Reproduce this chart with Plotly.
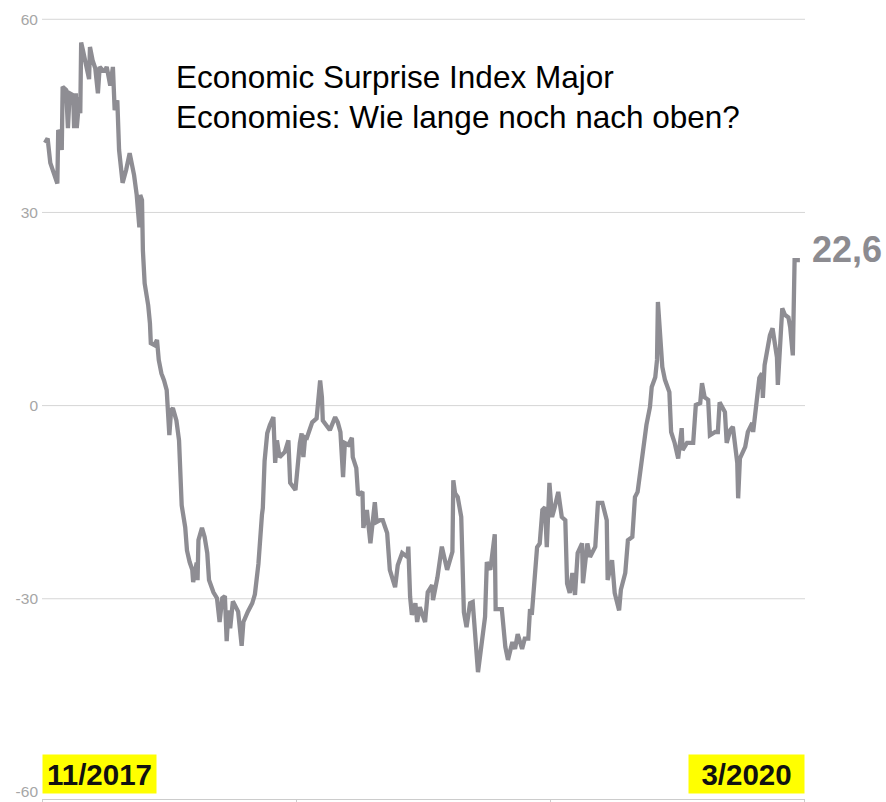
import pandas as pd
import plotly.graph_objects as go

# Citi Economic Surprise Index, major economies (Nov 2017 - Mar 2020)
start_date = "2017-11-01"
day_offsets = [
    0, 3, 6, 9, 14, 15, 17, 19, 20, 24, 26, 28, 32, 33, 35, 36, 39, 40, 41, 43,
    46, 50, 51, 54, 57, 60, 62, 66, 68, 70, 74, 77, 79, 82, 84, 88, 92, 96, 101, 104,
    107, 108, 110, 111, 113, 117, 119, 120, 124, 127, 129, 132, 135, 138, 141, 143, 145, 149, 152, 154,
    155, 159, 161, 164, 167, 168, 170, 172, 173, 174, 178, 181, 184, 186, 191, 195, 198, 201, 204, 206,
    208, 210, 213, 219, 223, 225, 230, 235, 238, 242, 246, 247, 249, 252, 255, 259, 261, 263, 266, 272,
    276, 278, 284, 286, 289, 291, 293, 295, 297, 303, 308, 312, 314, 315, 323, 329, 332, 335, 336, 338,
    340, 344, 348, 349, 353, 355, 360, 361, 365, 369, 374, 376, 380, 383, 388, 391, 397, 400, 405, 411,
    412, 414, 416, 420, 422, 425, 431, 434, 439, 440, 445, 450, 456, 459, 462, 463, 465, 468, 472, 475,
    478, 482, 485, 491, 497, 499, 501, 505, 510, 511, 518, 522, 525, 530, 533, 536, 541, 544, 548, 550,
    552, 555, 558, 561, 564, 567, 569, 572, 575, 578, 582, 586, 590, 592, 595, 598, 601, 604, 609, 610,
    615, 618, 624, 627, 632, 637, 638, 643, 646, 651, 653, 658, 661, 666, 669, 672, 675, 678, 682, 686,
    688, 692, 694, 695, 698, 700, 703, 708, 710, 714, 718, 722, 723, 728, 735, 738, 743, 745, 748, 752,
    754, 760, 763, 765, 771, 773, 777, 780, 785, 786, 788, 794, 797, 802, 803, 805, 807, 810, 813, 814,
    816, 822, 825, 830, 831, 833, 836, 839, 843, 845, 848, 850, 856,
]
index_values = [
    40.8, 41.5, 37.7, 36.5, 34.5, 42.8, 42.3, 39.7, 49.5, 49.0, 43.1, 48.5, 48.2, 43.1, 48.5, 43.1, 47.9, 45.4, 56.4, 55.2,
    53.2, 50.7, 55.7, 53.6, 52.4, 48.5, 52.6, 52.0, 52.0, 52.6, 49.7, 52.6, 45.9, 47.4, 39.7, 34.6, 36.6, 39.2, 35.8, 32.7,
    27.7, 32.7, 31.9, 24.1, 19.0, 15.6, 12.8, 9.7, 9.4, 10.2, 7.1, 5.0, 3.9, 2.4, -4.6, -0.7, -0.4, -2.3, -5.4, -12.0,
    -15.5, -18.9, -22.5, -24.3, -25.5, -27.4, -25.5, -24.4, -27.1, -20.9, -19.0, -20.4, -22.9, -27.1, -29.0, -29.9, -33.6, -29.9, -29.6, -36.6,
    -31.8, -34.6, -30.4, -32.0, -37.3, -33.6, -32.0, -30.7, -29.3, -24.6, -17.0, -15.9, -8.6, -4.3, -3.0, -1.8, -8.9, -5.4, -8.0, -7.2,
    -5.4, -12.0, -13.1, -9.5, -5.8, -4.3, -8.0, -4.9, -5.0, -2.6, -2.0, 3.9, 1.3, -2.3, -3.8, -1.8, -2.6, -4.1, -7.4, -11.1,
    -5.8, -6.1, -5.0, -8.0, -9.7, -13.9, -13.4, -19.0, -16.2, -21.4, -15.0, -18.1, -17.8, -17.8, -19.8, -25.5, -28.2, -24.8, -22.9, -23.5,
    -21.9, -29.7, -32.5, -30.7, -33.6, -31.3, -33.6, -29.0, -27.9, -30.2, -26.7, -21.9, -25.5, -23.9, -22.7, -11.6, -13.6, -14.2, -17.3, -32.1,
    -34.4, -30.7, -30.5, -41.4, -34.1, -32.8, -24.3, -25.5, -20.0, -31.6, -31.6, -37.5, -39.5, -36.7, -37.8, -35.5, -37.8, -36.2, -36.2, -31.6,
    -32.5, -27.6, -22.0, -21.4, -16.2, -15.8, -22.0, -12.0, -17.3, -15.8, -13.4, -17.3, -17.8, -27.6, -29.1, -26.0, -29.4, -22.9, -21.4, -27.6,
    -21.4, -23.5, -21.9, -15.1, -15.1, -17.8, -27.1, -24.0, -29.1, -31.8, -28.6, -26.0, -20.9, -20.4, -14.2, -13.4, -10.3, -7.4, -3.0, -0.2,
    2.9, 4.4, 7.1, 16.1, 9.1, 6.0, 4.0, 2.1, -4.1, -5.8, -8.2, -3.5, -6.9, -5.8, -5.8, 0.1, 0.4, 3.5, 1.3, 0.9,
    -4.6, -4.1, -4.1, 0.5, -1.0, -5.8, -3.8, -3.3, -8.9, -14.4, -8.2, -6.4, -4.1, -2.7, -4.1, -1.2, 1.3, 4.3, 5.0, 1.2,
    6.3, 10.9, 12.0, 7.5, 3.2, 7.5, 15.1, 14.1, 13.7, 12.2, 7.8, 22.6, 22.6,
]
y_ticks = [60, 30, 0, -30, -60]
grid_levels = [60, 30, 0, -30]
period_start_label = "11/2017"
period_end_label = "3/2020"
last_value_label = "22,6"
title_lines = ["Economic Surprise Index Major", "Economies: Wie lange noch nach oben?"]

start = pd.Timestamp(start_date)
dates = start + pd.to_timedelta(day_offsets, unit="D")

LINE_GREY = "#8e8d93"
GRID_GREY = "#d6d6d6"
LABEL_GREY = "#a6a6a6"
SANS = "Liberation Sans, Arial, Helvetica, sans-serif"

x0 = start - pd.Timedelta(days=3.4)
x1 = start + pd.Timedelta(days=861.8)
span = x1 - x0
# four evenly spaced ticks; the last one nudged just inside the range
x_tick_vals = [x0 + span * k / 3 for k in range(4)]
x_tick_vals[-1] = x_tick_vals[-1] - pd.Timedelta(hours=6)

fig = go.Figure()
fig.add_trace(go.Scatter(
    x=dates, y=index_values, mode="lines",
    line=dict(color=LINE_GREY, width=4.3),
    hoverinfo="skip", showlegend=False,
))

# horizontal guide lines (the bottom level coincides with the axis line)
for level in grid_levels:
    fig.add_shape(type="line", xref="paper", x0=0, x1=1, yref="y", y0=level, y1=level,
                  line=dict(color=GRID_GREY, width=1), layer="below")

# two-line headline, one annotation per line for tighter leading
for line_text, ypos in zip(title_lines, [0.9245, 0.8735]):
    fig.add_annotation(
        xref="paper", yref="paper", x=0.1735, y=ypos, xanchor="left", yanchor="middle",
        text=line_text, showarrow=False, align="left",
        font=dict(family=SANS, size=31.5, color="#000000"),
    )

fig.add_annotation(
    x=dates[-1], y=index_values[-1], xref="x", yref="y",
    xanchor="left", yanchor="middle", xshift=10, yshift=11,
    text=last_value_label, showarrow=False,
    font=dict(family=SANS, size=36, color="#8c8b90", weight="bold"),
)

for label, xpos, anchor, box_w in [(period_start_label, 0, "left", 107),
                                   (period_end_label, 1, "right", 109)]:
    fig.add_annotation(
        xref="paper", yref="paper", x=xpos, y=0, xanchor=anchor, yanchor="bottom", yshift=5,
        text=label, showarrow=False, bgcolor="#ffff00", borderpad=3,
        width=box_w, height=32, align="center", valign="middle",
        font=dict(family=SANS, size=29.5, color="#111111", weight="bold"),
    )

fig.update_layout(
    width=886, height=802,
    margin=dict(l=42, r=81, t=18, b=3, autoexpand=False),
    paper_bgcolor="white", plot_bgcolor="white",
    xaxis=dict(
        type="date", range=[x0, x1], showgrid=False, zeroline=False,
        showline=True, linecolor="#cccccc", linewidth=1, automargin=False,
        ticks="outside", ticklen=5, tickcolor="#cccccc",
        tickvals=x_tick_vals, showticklabels=False, fixedrange=True,
    ),
    yaxis=dict(
        range=[-61.1, 60.2], tickvals=y_ticks, ticktext=[str(v) for v in y_ticks],
        showgrid=False, zeroline=False, showline=False, automargin=False,
        ticks="", ticklabelstandoff=3,
        tickfont=dict(family=SANS, size=15.5, color=LABEL_GREY), fixedrange=True,
    ),
)

fig.write_html("out.html")
